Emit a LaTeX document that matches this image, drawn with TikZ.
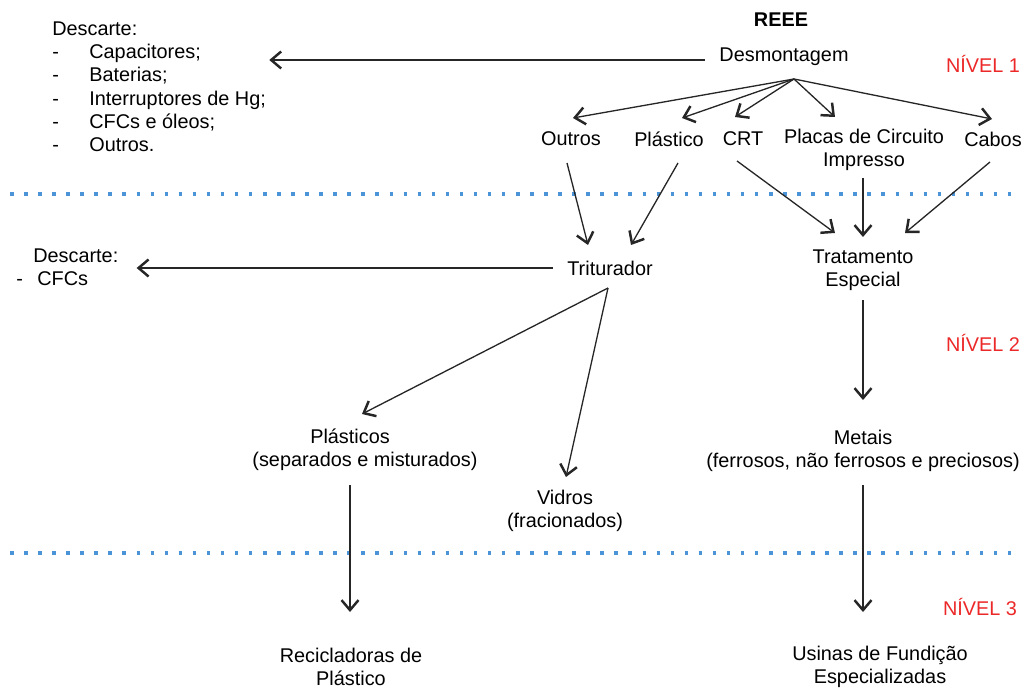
\documentclass[tikz,border=0pt]{standalone}
\usepackage{fontspec}
\setmainfont{Liberation Sans}
\usetikzlibrary{arrows.meta,calc}
\definecolor{nivelred}{RGB}{236,40,40}
\definecolor{dotblue}{RGB}{75,148,215}
\newcommand{\traco}{\makebox[0.74cm][l]{-}}
\tikzstyle{lbl} = [inner sep=0pt, align=center, font=\fontsize{11.3}{13}\selectfont]
\tikzstyle{lista} = [inner sep=0pt, align=left, anchor=north west, font=\fontsize{11.3}{13.3}\selectfont]
\tikzstyle{nivel} = [inner sep=0pt, text=nivelred, font=\fontsize{11.3}{13}\selectfont]
\tikzstyle{arr} = [draw=black!85, line width=0.75pt, -{Straight Barb[length=2mm,width=3.4mm,line width=1.4pt]}]
\tikzstyle{sep} = [dotblue, line width=2pt, dash pattern=on 2pt off 6pt]

\begin{document}
\begin{tikzpicture}[x=0.02cm,y=-0.02cm]
\useasboundingbox (0,0) rectangle (1024,689);

% level separators
\draw[sep] (10,194) -- (1020,194);
\draw[sep] (10,553) -- (1020,553);

% level 1
\node[lbl, font=\fontsize{11.3}{13}\selectfont\bfseries] (reee) at (781,20) {REEE};
\node[lbl] (desm) at (784,57) {Desmontagem};
\node[nivel] (n1) at (983,64) {NÍVEL 1};
\node[lista] (descA) at (52,21) {Descarte:\\
 \traco Capacitores;\\
 \traco Baterias;\\
 \traco Interruptores de Hg;\\
 \traco CFCs e óleos;\\
 \traco Outros.};

\node[lbl] (outros) at (571,139) {Outros};
\node[lbl] (plastico) at (669,139) {Plástico};
\node[lbl] (crt) at (743,139) {CRT};
\node[lbl] (placas) at (864,150) {Placas de Circuito\\Impresso};
\node[lbl] (cabos) at (993,139) {Cabos};

% level 2
\node[lbl] (trit) at (610,268) {Triturador};
\node[lista] (descB) at (16,248) {\hspace*{0.34cm}Descarte:\\
 \makebox[0.42cm][l]{-}CFCs};
\node[lbl] (trat) at (863,270) {Tratamento\\Especial};
\node[nivel] (n2) at (983,343) {NÍVEL 2};
\node[lbl] (plasticos) at (365,450) {Plásticos\hspace*{0.6cm}\\(separados e misturados)};
\node[lbl] (vidros) at (565,511) {Vidros\\(fracionados)};
\node[lbl] (metais) at (863,451) {Metais\\(ferrosos, não ferrosos e preciosos)};

% level 3
\node[nivel] (n3) at (980,607) {NÍVEL 3};
\node[lbl] (recic) at (351,667) {Recicladoras de\\Plástico};
\node[lbl] (usinas) at (880,667) {Usinas de Fundição\\Especializadas};

% connectors
\coordinate (fan) at ($(desm)+(10,22)$);
\draw[arr] ($(desm)+(-79,3)$) -- ($(descA.east |- desm)+(3,3)$);
\draw[arr] (fan) -- ($(outros)+(2,-21)$);
\draw[arr] (fan) -- ($(plastico)+(13,-21)$);
\draw[arr] (fan) -- ($(crt)+(-8,-22)$);
\draw[arr] (fan) -- ($(placas)+(-29,-33)$);
\draw[arr] (fan) -- ($(cabos)+(-1,-20)$);

\draw[arr] ($(outros)+(-4,24)$) -- ($(trit)+(-22,-23)$);
\draw[arr] ($(plastico)+(9,24)$) -- ($(trit)+(21,-23)$);
\draw[arr] ($(crt)+(-6,22)$) -- ($(trat)+(-28,-37)$);
\draw[arr] ($(placas)+(-1,28)$) -- ($(trat)+(0,-33)$);
\draw[arr] ($(cabos)+(-3,23)$) -- ($(trat)+(42,-37)$);

\draw[arr] ($(trit)+(-57,0)$) -- ($(descB.east |- trit)+(18,0)$);
\draw[arr] ($(trit)+(-2,20)$) -- ($(plasticos)+(-3,-36)$);
\draw[arr] ($(trit)+(-2,20)$) -- ($(vidros)+(1,-34)$);
\draw[arr] ($(trat)+(0,30)$) -- ($(metais)+(0,-51)$);

\draw[arr] ($(plasticos)+(-15,35)$) -- ($(recic)+(-1,-55)$);
\draw[arr] ($(metais)+(0,34)$) -- ($(usinas)+(-17,-55)$);
\end{tikzpicture}
\end{document}
